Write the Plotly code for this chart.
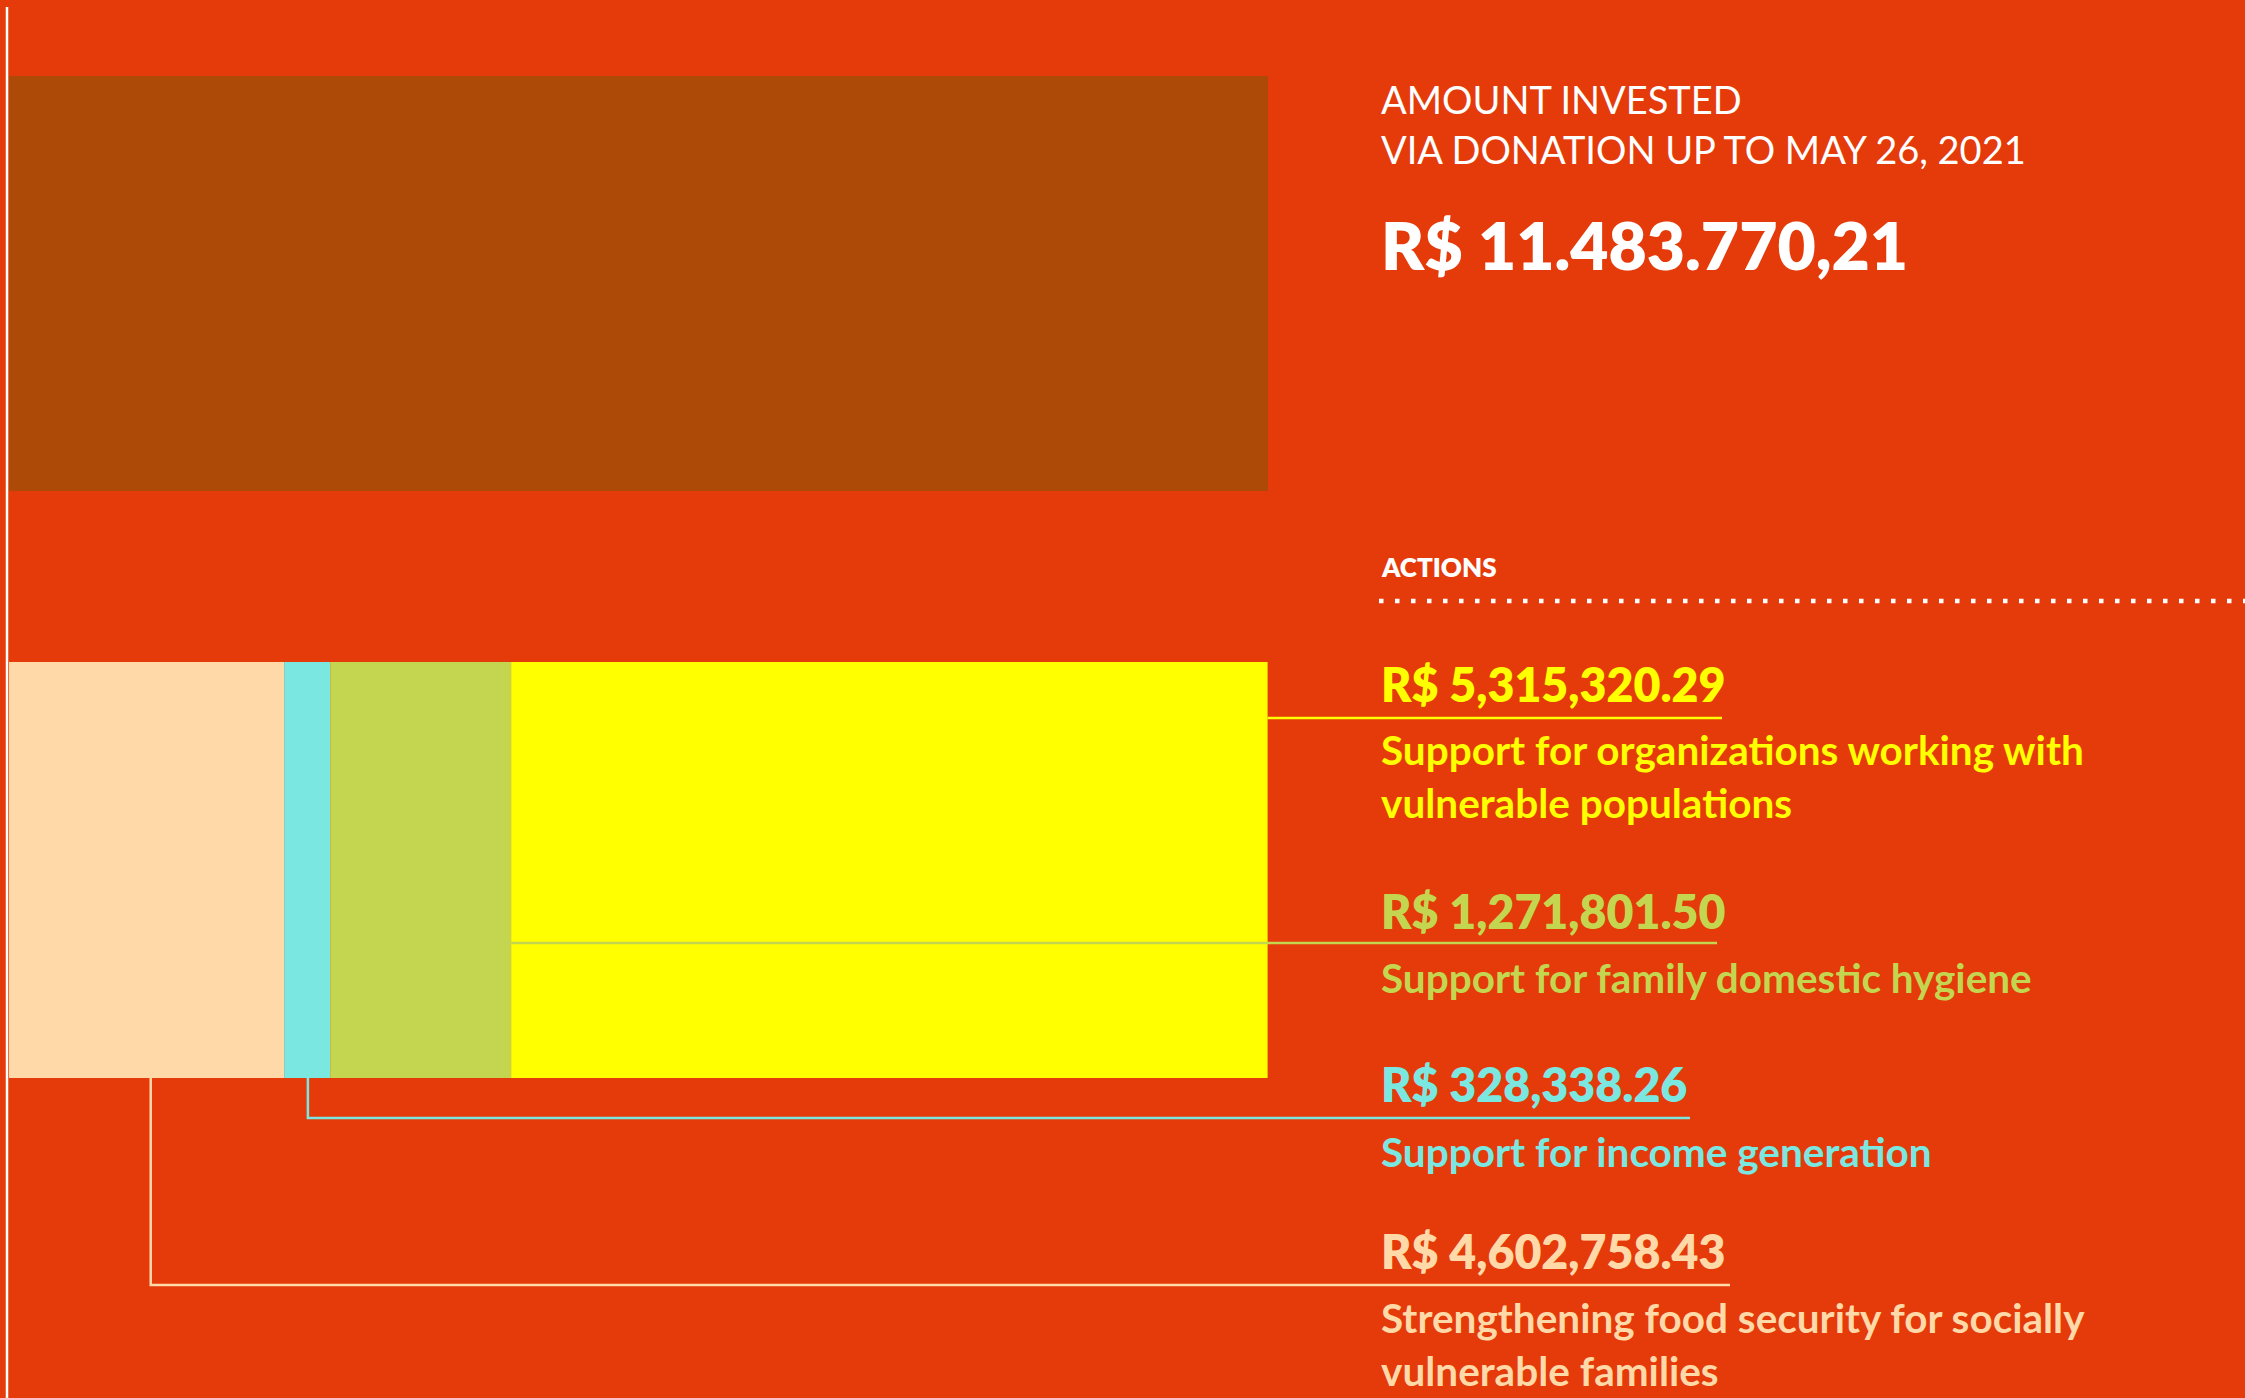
import numpy as np
import plotly.graph_objects as go

# ---------------- data ----------------
total_label = "R$ 11.483.770,21"
total_value = 11.48377021  # R$ millions
categories = [
    "Strengthening food security for socially<br>vulnerable families",
    "Support for income generation",
    "Support for family domestic hygiene",
    "Support for organizations working with<br>vulnerable populations",
]
amount_labels = ["R$ 4,602,758.43", "R$ 328,338.26", "R$ 1,271,801.50", "R$ 5,315,320.29"]
# segment lengths as drawn in the stacked bar (R$ millions on the bar's scale)
drawn_lengths = [2.51, 0.42, 1.65, 6.90]
seg_colors = ["#FFD9A8", "#7AE8E0", "#C4D650", "#FFFF00"]
header_lines = ["AMOUNT INVESTED", "VIA DONATION UP TO MAY 26, 2021"]
section_title = "ACTIONS"

# ---------------- layout constants ----------------
W, H = 2245, 1398
BG = "#E53A0A"
TOPBAR = "#AD4A07"
P0, P1 = 9, 1268          # pixel span of the total bar
k = (P1 - P0) / total_value
x_range = [-P0 / k, (W - P0) / k]

def px2x(p):
    return (p - P0) / k

FONT = "Lato"

fig = go.Figure()

# top bar (total)
fig.add_trace(go.Bar(
    x=[total_value], y=[283.5], base=[0], width=[415], orientation="h",
    marker=dict(color=TOPBAR, line=dict(width=0)), hoverinfo="skip", showlegend=False))

# stacked bar of actions
lengths = np.array(drawn_lengths)
bases = np.concatenate([[0], np.cumsum(lengths)[:-1]])
for ln, b, c in zip(lengths, bases, seg_colors):
    fig.add_trace(go.Bar(
        x=[ln], y=[870], base=[b], width=[416], orientation="h",
        marker=dict(color=c, line=dict(width=0)), hoverinfo="skip", showlegend=False))

shapes = []
# left vertical white rule
shapes.append(dict(type="line", xref="paper", yref="y", x0=7 / W, x1=7 / W, y0=7, y1=H,
                   line=dict(color="white", width=2.5), layer="above"))
# dotted separator under ACTIONS
shapes.append(dict(type="line", xref="paper", yref="y", x0=1379 / W, x1=1.0, y0=601, y1=601,
                   line=dict(color="white", width=4.5, dash="4.5px,11.5px"), layer="above"))

bar_bottom = 1078
ends = np.cumsum(lengths)
anchor_x = bases + lengths * 0.515   # connector drop points (near segment centres)
lw = 2.5
shapes.append(dict(type="line", xref="x", yref="y", x0=ends[3], x1=px2x(1722), y0=718, y1=718,
                   line=dict(color=seg_colors[3], width=lw), layer="above"))
shapes.append(dict(type="line", xref="x", yref="y", x0=ends[2], x1=px2x(1717), y0=943, y1=943,
                   line=dict(color=seg_colors[2], width=lw), layer="above"))
shapes.append(dict(type="path", xref="x", yref="y",
                   path=f"M {anchor_x[1]} {bar_bottom} L {anchor_x[1]} 1118 L {px2x(1690)} 1118",
                   line=dict(color=seg_colors[1], width=lw), layer="above"))
shapes.append(dict(type="path", xref="x", yref="y",
                   path=f"M {anchor_x[0]} {bar_bottom} L {anchor_x[0]} 1285 L {px2x(1730)} 1285",
                   line=dict(color=seg_colors[0], width=lw), layer="above"))

TX = 1379 / W
ann = []
def text(t, y, size, color, weight=400):
    ann.append(dict(text=t, xref="paper", yref="y", x=TX, y=y, xanchor="left", yanchor="middle",
                    showarrow=False, align="left",
                    font=dict(family=FONT, size=size, color=color, weight=weight)))

text(header_lines[0], 99, 38, "white", 400)
text(header_lines[1], 148.5, 38, "white", 400)
text(total_label, 244, 66, "white", 800)
text(section_title, 566.5, 26, "white", 800)

value_y = [1251, 1084, 910.5, 684]
desc_y = [1344, 1151, 977.5, 776]
for i in range(4):
    text(amount_labels[i], value_y[i], 46.5, seg_colors[i], 800)
    text(categories[i], desc_y[i], 40.5, seg_colors[i], 700)

fig.update_layout(
    width=W, height=H,
    margin=dict(l=0, r=0, t=0, b=0),
    paper_bgcolor=BG, plot_bgcolor=BG,
    barmode="overlay",
    xaxis=dict(range=x_range, visible=False, fixedrange=True),
    yaxis=dict(range=[H, 0], visible=False, fixedrange=True),
    shapes=shapes, annotations=ann, showlegend=False,
)

fig.write_html(
    "out.html",
    config={"displayModeBar": False, "responsive": False},
    post_script="document.body.style.margin='0';document.body.style.overflow='hidden';",
)
